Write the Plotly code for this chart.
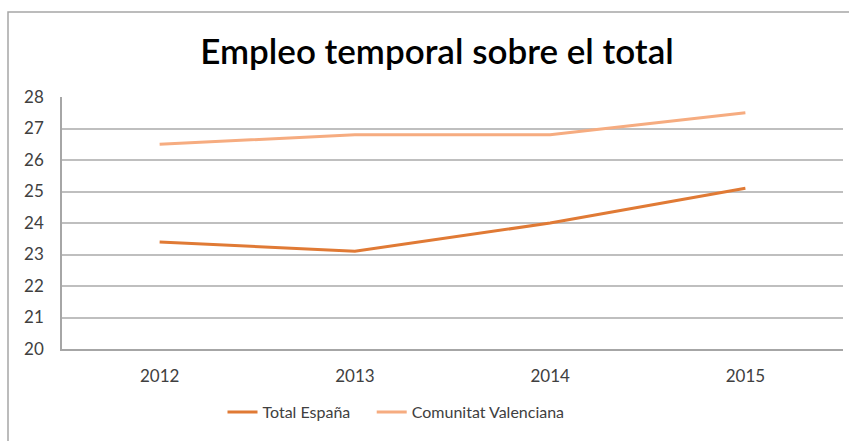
import plotly.graph_objects as go

years = ["2012", "2013", "2014", "2015"]
total_espana = [23.4, 23.1, 24.0, 25.1]
comunitat_valenciana = [26.5, 26.8, 26.8, 27.5]
y_ticks = [20, 21, 22, 23, 24, 25, 26, 27, 28]

W, H = 849, 441
ml, mr, mt, mb = 62, 6, 97, 92

fig = go.Figure()
fig.add_trace(go.Scatter(x=years, y=total_espana, mode="lines",
                         name="Total España" + "\u00a0" * 4,
                         line=dict(color="#E07A35", width=3)))
fig.add_trace(go.Scatter(x=years, y=comunitat_valenciana, mode="lines", name="Comunitat Valenciana",
                         line=dict(color="#F6AC80", width=3)))

pw = W - ml - mr
ph = H - mt - mb
fig.add_shape(type="rect", xref="paper", yref="paper",
              x0=(8 - ml) / pw, x1=(870 - ml) / pw,
              y0=1 - (445 - mt) / ph, y1=1 + (mt - 12) / ph,
              line=dict(color="#A6A6A6", width=1.5), layer="below")

font_family = "Lato, 'Open Sans', sans-serif"
fig.update_layout(
    width=W, height=H,
    margin=dict(l=ml, r=mr, t=mt, b=mb),
    paper_bgcolor="white", plot_bgcolor="white",
    title=dict(text="Empleo temporal sobre el total", x=(437) / W, xanchor="center",
               y=1 - 52 / H, yanchor="middle",
               font=dict(family=font_family, size=35, color="#000000", weight=600)),
    xaxis=dict(type="category", range=[-0.5, 3.5], showgrid=False,
               showline=True, linecolor="#A6A6A6", linewidth=1.5,
               ticks="", ticklabelstandoff=11,
               tickfont=dict(family=font_family, size=17, color="#404040")),
    yaxis=dict(range=[20, 28], tickvals=y_ticks, showgrid=True, gridcolor="#BFBFBF",
               gridwidth=1.5, showline=True, linecolor="#A6A6A6", linewidth=1.5,
               zeroline=False, ticks="", ticklabelstandoff=13,
               tickfont=dict(family=font_family, size=17, color="#404040")),
    legend=dict(orientation="h", x=(396 - ml) / pw, xanchor="center", y=-(412 - 349) / ph,
                yanchor="middle", font=dict(family=font_family, size=16, color="#404040"),
                itemwidth=30, tracegroupgap=0),
    showlegend=True,
)

fig.write_html("out.html", config={"displayModeBar": False},
               post_script="document.body.style.margin='0';")
